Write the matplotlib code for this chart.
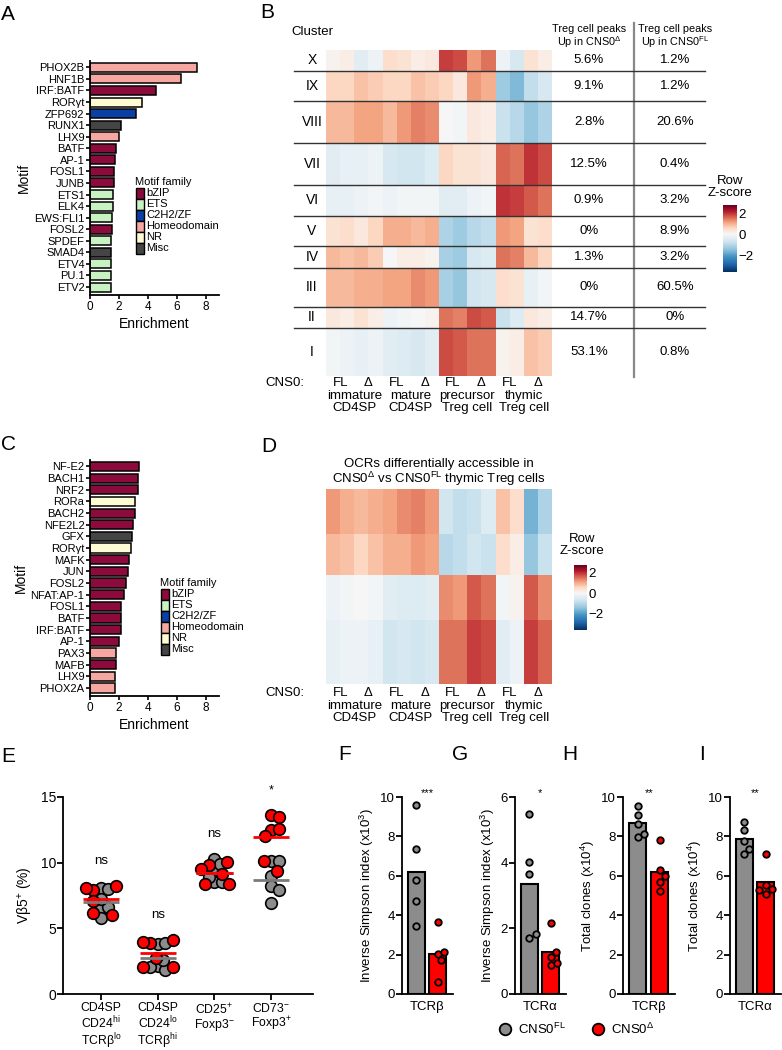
import numpy as np
import matplotlib
matplotlib.use('Agg')
import matplotlib.pyplot as plt
from matplotlib.colors import TwoSlopeNorm
from matplotlib.patches import Rectangle

plt.rcParams['font.family'] = ['Liberation Sans', 'DejaVu Sans']
plt.rcParams['mathtext.default'] = 'regular'
plt.rcParams['axes.linewidth'] = 1.3

# ---------------- data ----------------
fam_names = ['bZIP', 'ETS', 'C2H2/ZF', 'Homeodomain', 'NR', 'Misc']
fam_colors = {'bZIP': '#8c0a3c', 'ETS': '#c9f2c2', 'C2H2/ZF': '#0a3fa3',
              'Homeodomain': '#f7a7a1', 'NR': '#fffbd2', 'Misc': '#454545'}

motifs_a = ['PHOX2B', 'HNF1B', 'IRF:BATF', 'RORγt', 'ZFP692', 'RUNX1', 'LHX9', 'BATF', 'AP-1', 'FOSL1',
            'JUNB', 'ETS1', 'ELK4', 'EWS:FLI1', 'FOSL2', 'SPDEF', 'SMAD4', 'ETV4', 'PU.1', 'ETV2']
enrich_a = [7.4, 6.26, 4.56, 3.62, 3.17, 2.13, 2.0, 1.81, 1.70, 1.63,
            1.63, 1.58, 1.58, 1.54, 1.54, 1.47, 1.47, 1.45, 1.45, 1.45]
family_a = ['Homeodomain', 'Homeodomain', 'bZIP', 'NR', 'C2H2/ZF', 'Misc', 'Homeodomain', 'bZIP', 'bZIP', 'bZIP',
            'bZIP', 'ETS', 'ETS', 'ETS', 'bZIP', 'ETS', 'Misc', 'ETS', 'ETS', 'ETS']

motifs_c = ['NF-E2', 'BACH1', 'NRF2', 'RORa', 'BACH2', 'NFE2L2', 'GFX', 'RORγt', 'MAFK', 'JUN',
            'FOSL2', 'NFAT:AP-1', 'FOSL1', 'BATF', 'IRF:BATF', 'AP-1', 'PAX3', 'MAFB', 'LHX9', 'PHOX2A']
enrich_c = [3.35, 3.33, 3.30, 3.10, 3.10, 2.98, 2.89, 2.84, 2.66, 2.61,
            2.45, 2.32, 2.13, 2.11, 2.11, 2.0, 1.79, 1.77, 1.72, 1.70]
family_c = ['bZIP', 'bZIP', 'bZIP', 'NR', 'bZIP', 'bZIP', 'Misc', 'NR', 'bZIP', 'bZIP',
            'bZIP', 'bZIP', 'bZIP', 'bZIP', 'bZIP', 'bZIP', 'Homeodomain', 'bZIP', 'Homeodomain', 'Homeodomain']

cell_types = ['immature\nCD4SP', 'mature\nCD4SP', 'precursor\nTreg cell', 'thymic\nTreg cell']
genotypes = ['FL', 'Δ']

clusters = ['X', 'IX', 'VIII', 'VII', 'VI', 'V', 'IV', 'III', 'II', 'I']
cluster_size = [21, 30, 42, 42, 31, 30, 22, 39, 21, 48]
pct_up_del = ['5.6%', '9.1%', '2.8%', '12.5%', '0.9%', '0%', '1.3%', '0%', '14.7%', '53.1%']
pct_up_fl = ['1.2%', '1.2%', '20.6%', '0.4%', '3.2%', '8.9%', '3.2%', '60.5%', '0%', '0.8%']
# mean row z-score per cluster, 16 samples (4 cell types x FL/Δ x 2 replicates)
cluster_z = [
    [0.1, 0.2, -0.4, -0.2, 0.5, 0.4, 0.2, 0.3, 1.9, 1.8, 1.2, 1.5, -0.2, -0.6, 0.4, 0.2],
    [0.6, 0.6, 0.8, 0.7, 0.6, 0.6, 0.8, 0.7, 0.6, 0.3, 1.2, 1.0, -1.3, -1.6, -0.9, -0.6],
    [0.9, 0.9, 1.1, 1.1, 0.9, 1.2, 1.4, 1.3, 0.0, -0.1, 0.3, 0.2, -0.8, -1.0, -1.4, -1.1],
    [-0.4, -0.3, -0.3, -0.2, -0.6, -0.7, -0.7, -0.5, 0.6, 0.4, 0.4, 0.3, 1.6, 1.5, 2.0, 1.8],
    [-0.3, -0.3, -0.2, -0.1, -0.2, -0.1, -0.1, -0.1, -0.4, -0.4, -0.2, -0.1, 2.0, 1.9, 1.7, 1.5],
    [0.4, 0.5, 0.3, 0.6, 1.0, 1.0, 0.9, 1.0, -1.1, -1.3, -1.0, -0.9, 1.2, 1.1, 0.4, 0.5],
    [0.9, 0.8, 0.9, 0.7, 0.0, 0.2, 0.2, 0.1, -1.2, -1.3, -0.6, -0.5, 1.5, 1.4, 0.9, 0.6],
    [0.9, 0.9, 1.0, 1.0, 1.1, 1.1, 1.3, 1.2, -1.2, -1.4, -0.7, -0.6, 0.5, 0.4, -0.3, -0.1],
    [0.3, 0.2, 0.4, 0.2, -0.2, -0.1, 0.0, 0.1, 1.5, 1.4, 1.8, 1.7, -0.8, -0.5, 0.3, 0.2],
    [-0.1, -0.2, -0.3, -0.2, -0.4, -0.5, -0.6, -0.4, 1.8, 1.7, 1.5, 1.5, 0.1, 0.2, 0.8, 0.7],
]

d_band_size = [45, 41, 45, 64]
d_band_z = [
    [1.2, 1.0, 0.9, 1.0, 1.1, 1.3, 1.4, 1.2, -0.7, -0.9, -0.8, -0.5, 0.8, 0.5, -1.7, -1.1],
    [0.9, 0.8, 0.6, 0.8, 1.0, 1.0, 1.2, 1.1, -1.0, -0.9, -0.7, -0.8, 0.5, 0.2, -1.4, -0.8],
    [-0.2, -0.1, 0.0, -0.1, -0.4, -0.5, -0.5, -0.4, 1.3, 1.2, 1.7, 1.5, -0.1, 0.1, 1.7, 1.3],
    [-0.3, -0.2, -0.2, -0.3, -0.7, -0.6, -0.7, -0.6, 1.5, 1.5, 1.9, 1.8, -0.4, -0.2, 1.9, 1.6],
]

e_groups = ['CD4SP\nCD24$^{hi}$\nTCRβ$^{lo}$', 'CD4SP\nCD24$^{lo}$\nTCRβ$^{hi}$',
            'CD25$^{+}$\nFoxp3$^{−}$', 'CD73$^{−}$\nFoxp3$^{+}$']
e_fl = [[8.1, 8.0, 6.55, 6.6, 5.75, 7.2],
        [3.8, 3.85, 2.15, 1.85, 2.05, 2.6],
        [10.3, 9.35, 8.5, 8.5, 8.9, 9.9],
        [10.15, 10.1, 9.0, 8.2, 7.9, 6.95]]
e_del = [[7.9, 8.25, 8.05, 7.1, 6.2, 6.05],
         [3.85, 4.1, 2.75, 2.05, 2.05, 3.95],
         [9.85, 10.05, 9.1, 8.4, 9.55, 8.4],
         [13.6, 13.5, 12.5, 12.6, 12.05, 10.1, 9.4]]
e_sig = ['ns', 'ns', 'ns', '*']

simpson_b_fl = [9.58, 7.35, 5.78, 4.73, 3.45]
simpson_b_del = [3.63, 2.01, 2.15, 1.72, 0.61]
simpson_a_fl = [5.49, 4.02, 3.66, 1.71, 1.84]
simpson_a_del = [2.15, 1.13, 0.87, 1.29, 0.95]
clones_b_fl = [9.54, 9.07, 8.65, 7.97, 8.14]
clones_b_del = [7.8, 6.28, 6.0, 5.68, 5.22]
clones_a_fl = [8.73, 8.31, 7.75, 7.13, 7.38]
clones_a_del = [7.13, 5.52, 5.35, 5.1, 5.27]

GRAY = '#8c8c8c'
RED = '#ff0000'

W, H = 782, 1050
fig = plt.figure(figsize=(W / 100, H / 100), dpi=100)


def add_ax(l, t, r, b):
    return fig.add_axes([l / W, 1 - b / H, (r - l) / W, (b - t) / H])


def swarm_offsets(yvals, y_scale, diam):
    placed, offs = [], []
    cands = [0.0] + [s * k * diam / 4 for k in range(1, 40) for s in (1, -1)]
    for v in yvals:
        yp = v * y_scale
        for xo in cands:
            if all((xo - a) ** 2 + (yp - b) ** 2 >= diam ** 2 for a, b in placed):
                break
        placed.append((xo, yp))
        offs.append(xo)
    return np.array(offs)


def motif_panel(ax, names, vals, fams):
    y = np.arange(len(names))
    ax.barh(y, vals, height=0.78, color=[fam_colors[f] for f in fams],
            edgecolor='black', linewidth=1.1)
    ax.set_yticks(y)
    ax.set_yticklabels(names)
    ax.set_ylim(19.69, -0.55)
    ax.set_xlim(0, 8.9)
    ax.set_xticks([0, 2, 4, 6, 8])
    ax.set_xlabel('Enrichment', fontsize=10, labelpad=3)
    ax.set_ylabel('Motif', fontsize=10, labelpad=2)
    ax.spines[['top', 'right']].set_visible(False)
    ax.tick_params(axis='y', length=3, width=1.2, pad=1, labelsize=8)
    ax.tick_params(axis='x', length=3, width=1.2, pad=1, labelsize=8.5)


def motif_legend(ov, x0, y0):
    ov.text(x0, y0, 'Motif family', fontsize=8, ha='left', va='center')
    for i, f in enumerate(fam_names):
        yc = y0 + 11 + i * 11
        ov.add_patch(Rectangle((x0 + 1, yc - 5.5), 8, 11, facecolor=fam_colors[f],
                               edgecolor='black', linewidth=1.0))
        ov.text(x0 + 11, yc, f, fontsize=8, ha='left', va='center')


norm = TwoSlopeNorm(vmin=-3.6, vcenter=0, vmax=2.76)
col_px = (552 - 326) / 16


def px2col(x):
    return (x - 326) / col_px


def column_labels(ax, ytop):
    for i in range(8):
        ax.text(2 * i + 1, ytop, genotypes[i % 2], fontsize=9.5, ha='center', va='center', clip_on=False)
    for j, ct in enumerate(cell_types):
        ax.text(4 * j + 2, ytop + 7, ct, fontsize=9.5, ha='center', va='top', linespacing=1.0, clip_on=False)
    ax.text(px2col(285), ytop, 'CNS0:', fontsize=9.5, ha='center', va='center', clip_on=False)


def zbar(l, t, r, b):
    cax = add_ax(l, t, r, b)
    grad = np.linspace(norm.vmin, norm.vmax, 256)
    cax.imshow(grad[:, None], cmap='RdBu_r', norm=norm, aspect='auto', origin='lower',
               extent=[0, 1, norm.vmin, norm.vmax])
    cax.set_xticks([])
    cax.yaxis.tick_right()
    cax.set_yticks([-2, 0, 2])
    cax.set_yticklabels(['−2', '0', '2'])
    cax.tick_params(length=0, labelsize=9.5, pad=1)
    for s in cax.spines.values():
        s.set_visible(False)
    return cax


# ---------------- A ----------------
axa = add_ax(90, 61, 219, 295)
motif_panel(axa, motifs_a, enrich_a, family_a)

# ---------------- C ----------------
axc = add_ax(90, 460, 219, 696)
motif_panel(axc, motifs_c, enrich_c, family_c)

# ---------------- B ----------------
axb = add_ax(326, 50, 552, 376)
edges = np.concatenate([[0], np.cumsum(cluster_size)])
mesh = axb.pcolormesh(np.arange(17), edges, np.array(cluster_z), cmap='RdBu_r', norm=norm)
axb.set_xlim(0, 16)
axb.set_ylim(edges[-1], 0)
axb.axis('off')
for e in edges[1:-1]:
    axb.plot([px2col(294), px2col(705)], [e, e], color='#333333', lw=1.0, clip_on=False, zorder=3)
axb.plot([px2col(634), px2col(634)], [-27, edges[-1] + 1], color='#888888', lw=1.6, clip_on=False)
mids = (edges[:-1] + edges[1:]) / 2
for name, m, p1, p2 in zip(clusters, mids, pct_up_del, pct_up_fl):
    axb.text(px2col(312), m, name, fontsize=10, ha='center', va='center', clip_on=False)
    axb.text(px2col(589), m, p1, fontsize=9.5, ha='center', va='center', clip_on=False)
    axb.text(px2col(675), m, p2, fontsize=9.5, ha='center', va='center', clip_on=False)
axb.text(px2col(312), -18, 'Cluster', fontsize=9.5, ha='center', va='center', clip_on=False)
axb.text(px2col(589), -13, 'Treg cell peaks\nUp in CNS0$^{\\Delta}$', fontsize=7.8, ha='center',
         va='center', linespacing=1.0, clip_on=False)
axb.text(px2col(675), -13, 'Treg cell peaks\nUp in CNS0$^{FL}$', fontsize=7.8, ha='center',
         va='center', linespacing=1.0, clip_on=False)
column_labels(axb, edges[-1] + 7)
zbar(723, 205, 737, 272)

# ---------------- D ----------------
axd = add_ax(326, 489, 552, 684)
dedges = np.concatenate([[0], np.cumsum(d_band_size)])
axd.pcolormesh(np.arange(17), dedges, np.array(d_band_z), cmap='RdBu_r', norm=norm)
axd.set_xlim(0, 16)
axd.set_ylim(dedges[-1], 0)
axd.axis('off')
axd.text(8, -16, 'OCRs differentially accessible in\nCNS0$^{\\Delta}$ vs CNS0$^{FL}$ thymic Treg cells',
         fontsize=9.5, ha='center', va='center', linespacing=1.0, clip_on=False)
column_labels(axd, dedges[-1] + 9)
zbar(574, 565, 587, 630)

# ---------------- E ----------------
axe = add_ax(63, 797, 313, 994)
e_xs, e_ys = 56.7, 13.13
for i in range(4):
    vals = list(e_fl[i]) + list(e_del[i])
    offs = swarm_offsets(vals, e_ys, 7.5) / e_xs
    n = len(e_fl[i])
    axe.scatter(i + offs[:n], e_fl[i], s=70, c=GRAY, edgecolors='black', linewidths=1.2, zorder=3)
    axe.scatter(i + offs[n:], e_del[i], s=70, c=RED, edgecolors='black', linewidths=1.2, zorder=4)
    axe.hlines(np.mean(e_fl[i]), i - 0.32, i + 0.32, color='#7a7a7a', lw=2, zorder=5)
    axe.hlines(np.mean(e_del[i]), i - 0.32, i + 0.32, color=RED, lw=2, zorder=5)
    top = max(vals)
    axe.text(i, top + 1.9, e_sig[i], fontsize=9.5 if e_sig[i] == 'ns' else 9, ha='center', va='center')
axe.set_xlim(-0.67, 3.74)
axe.set_ylim(0, 15)
axe.set_yticks([0, 5, 10, 15])
axe.set_xticks(range(4))
axe.set_xticklabels(e_groups, fontsize=8.8, linespacing=1.0)
axe.tick_params(axis='y', length=4, width=1.3, labelsize=10, pad=1)
axe.tick_params(axis='x', length=4, width=1.3, pad=2)
axe.set_ylabel('Vβ5$^{+}$ (%)', fontsize=10, labelpad=4)
axe.spines[['top', 'right']].set_visible(False)


# ---------------- F-I ----------------
def tcr_panel(l, r, fl, dl, ymax, yticks, ylabel, xlab, sig):
    ax = add_ax(l, 797, r, 994)
    ys = 197 / ymax
    ax.bar([0, 1], [np.mean(fl), np.mean(dl)], width=0.79, color=[GRAY, RED],
           edgecolor='black', linewidth=1.5, zorder=2)
    for k, (vals, c) in enumerate([(fl, GRAY), (dl, RED)]):
        offs = swarm_offsets(vals, ys, 6.5) / 21.5
        ax.scatter(k + offs, vals, s=22, c=c, edgecolors='black', linewidths=1.3, zorder=3)
    ax.set_xlim(-0.67, 1.7)
    ax.set_ylim(0, ymax)
    ax.set_yticks(yticks)
    ax.set_xticks([0.5])
    ax.set_xticklabels([xlab])
    ax.tick_params(axis='x', length=0, pad=5, labelsize=9.5)
    ax.tick_params(axis='y', length=4, width=1.3, labelsize=9.5, pad=1)
    ax.set_ylabel(ylabel, fontsize=9.5, labelpad=3)
    ax.spines[['top', 'right']].set_visible(False)
    ax.annotate(sig, xy=(0.5, 1.02), xycoords=('data', 'axes fraction'), ha='center', va='center',
                fontsize=8, annotation_clip=False)
    return ax


tcr_panel(402, 453, simpson_b_fl, simpson_b_del, 10, [0, 2, 4, 6, 8, 10],
          'Inverse Simpson index (x10$^{3}$)', 'TCRβ', '***')
tcr_panel(515, 566, simpson_a_fl, simpson_a_del, 6, [0, 2, 4, 6],
          'Inverse Simpson index (x10$^{3}$)', 'TCRα', '*')
tcr_panel(623, 675, clones_b_fl, clones_b_del, 10, [0, 2, 4, 6, 8, 10],
          'Total clones (x10$^{4}$)', 'TCRβ', '**')
tcr_panel(730, 781, clones_a_fl, clones_a_del, 10, [0, 2, 4, 6, 8, 10],
          'Total clones (x10$^{4}$)', 'TCRα', '**')

# ---------------- overlay: letters, legends ----------------
ov = fig.add_axes([0, 0, 1, 1])
ov.set_xlim(0, W)
ov.set_ylim(H, 0)
ov.axis('off')
for lab, x, y in [('A', 8, 14), ('B', 267, 12), ('C', 9, 445), ('D', 269, 446),
                  ('E', 8, 757), ('F', 345, 755), ('G', 460, 755), ('H', 570, 755), ('I', 702, 755)]:
    ov.text(x, y, lab, fontsize=15, ha='center', va='center')
motif_legend(ov, 135, 182)
motif_legend(ov, 160, 583)
ov.text(730, 187, 'Row\nZ-score', fontsize=9.5, ha='center', va='center', linespacing=1.05)
ov.text(582, 545, 'Row\nZ-score', fontsize=9.5, ha='center', va='center', linespacing=1.05)
ov.scatter([505], [1029], s=70, c=GRAY, edgecolors='black', linewidths=1.3)
ov.text(518, 1029, 'CNS0$^{FL}$', fontsize=9.5, ha='left', va='center')
ov.scatter([598], [1029], s=70, c=RED, edgecolors='black', linewidths=1.3)
ov.text(611, 1029, 'CNS0$^{\\Delta}$', fontsize=9.5, ha='left', va='center')

fig.savefig('out.png', dpi=100, facecolor='white')
